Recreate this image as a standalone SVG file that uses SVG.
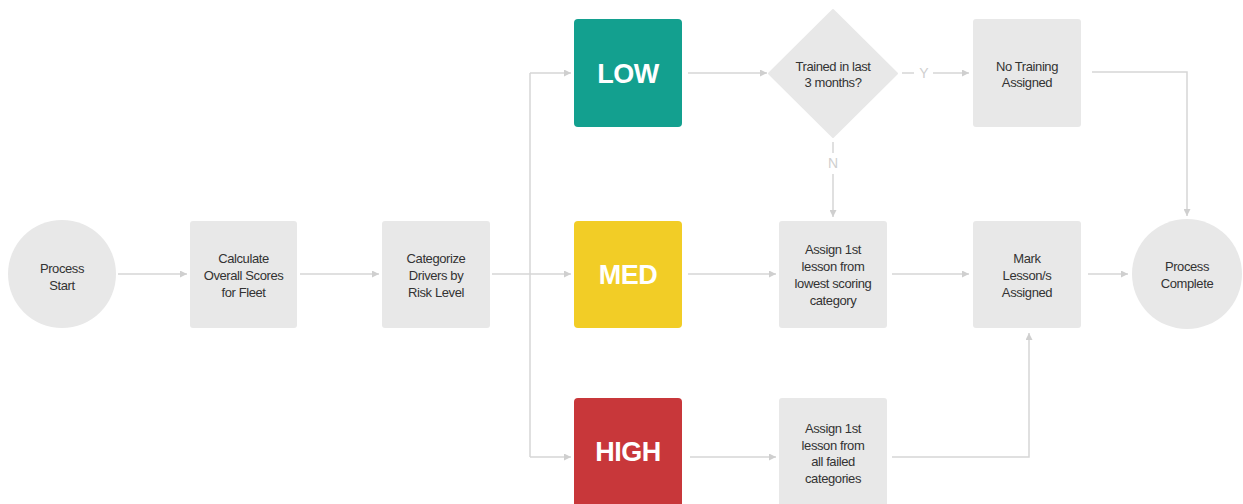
<svg xmlns="http://www.w3.org/2000/svg" width="1243" height="504" viewBox="0 0 1243 504">
<defs>
<marker id="ah" viewBox="0 0 10 10" refX="10" refY="5" markerWidth="7" markerHeight="7" markerUnits="userSpaceOnUse" orient="auto">
<path d="M0,0 L10,5 L0,10 z" fill="#cfcfcf"/>
</marker>
<style>
.box{fill:#e8e8e8}
.t{font-family:"Liberation Sans",Arial,sans-serif;font-size:13px;fill:#333;text-anchor:middle;letter-spacing:-0.4px}
.big{font-family:"Liberation Sans",Arial,sans-serif;font-size:27px;font-weight:bold;fill:#fff;text-anchor:middle;letter-spacing:-0.5px}
.c{fill:none;stroke:#d6d6d6;stroke-width:1.5}
.a{marker-end:url(#ah)}
.lbl{font-family:"Liberation Sans",Arial,sans-serif;font-size:14px;fill:#cfcfcf;text-anchor:middle}
</style>
</defs>
<rect width="1243" height="504" fill="#fff"/>
<g id="connectors">
<path class="c a" d="M118,274 H187"/>
<path class="c a" d="M300,274 H379"/>
<path class="c a" d="M492,274 H571"/>
<path class="c" d="M530,457 V73"/>
<path class="c a" d="M530,73 H571"/>
<path class="c a" d="M530,457 H571"/>
<path class="c a" d="M688,73 H767"/>
<path class="c" d="M902,73 H914"/>
<path class="c a" d="M933,73 H969"/>
<path class="c" d="M833,142 V153"/>
<path class="c a" d="M833,174 V217"/>
<path class="c a" d="M1092,72 H1187 V216"/>
<path class="c a" d="M688,274 H776"/>
<path class="c a" d="M892,274 H969"/>
<path class="c a" d="M1088,274 H1128"/>
<path class="c a" d="M690,457 H776"/>
<path class="c a" d="M892,457 H1029 V333"/>
<text class="lbl" x="924" y="78">Y</text>
<text class="lbl" x="833" y="168">N</text>
</g>
<g id="start">
<circle cx="62" cy="274" r="54" fill="#e8e8e8"/>
<text class="t" x="62" y="273">Process</text>
<text class="t" x="62" y="290">Start</text>
</g>
<g id="calc">
<rect class="box" x="190" y="221" width="107" height="107" rx="3"/>
<text class="t" x="243.5" y="263">Calculate</text>
<text class="t" x="243.5" y="280">Overall Scores</text>
<text class="t" x="243.5" y="297">for Fleet</text>
</g>
<g id="categorize">
<rect class="box" x="382" y="221" width="108" height="107" rx="3"/>
<text class="t" x="436" y="263">Categorize</text>
<text class="t" x="436" y="280">Drivers by</text>
<text class="t" x="436" y="297">Risk Level</text>
</g>
<g id="low">
<rect x="574" y="19" width="108" height="108" rx="4" fill="#13a08f"/>
<text class="big" x="628" y="83">LOW</text>
</g>
<g id="med">
<rect x="574" y="221" width="108" height="107" rx="4" fill="#f2cd26"/>
<text class="big" x="628" y="284">MED</text>
</g>
<g id="high">
<rect x="574" y="398" width="108" height="112" rx="4" fill="#c8373a"/>
<text class="big" x="628" y="461">HIGH</text>
</g>
<g id="decision">
<path d="M833,10 L897,73.5 L833,137 L769,73.5 z" fill="#e8e8e8" stroke="#e8e8e8" stroke-width="2" stroke-linejoin="round"/>
<text class="t" x="833" y="71">Trained in last</text>
<text class="t" x="833" y="87">3 months?</text>
</g>
<g id="notraining">
<rect class="box" x="973" y="19" width="108" height="108" rx="3"/>
<text class="t" x="1027" y="71">No Training</text>
<text class="t" x="1027" y="87">Assigned</text>
</g>
<g id="assignlowest">
<rect class="box" x="779" y="221" width="108" height="107" rx="3"/>
<text class="t" x="833" y="254">Assign 1st</text>
<text class="t" x="833" y="271">lesson from</text>
<text class="t" x="833" y="288">lowest scoring</text>
<text class="t" x="833" y="305">category</text>
</g>
<g id="mark">
<rect class="box" x="973" y="221" width="108" height="107" rx="3"/>
<text class="t" x="1027" y="263">Mark</text>
<text class="t" x="1027" y="280">Lesson/s</text>
<text class="t" x="1027" y="297">Assigned</text>
</g>
<g id="complete">
<circle cx="1187" cy="274" r="55" fill="#e8e8e8"/>
<text class="t" x="1187" y="271">Process</text>
<text class="t" x="1187" y="288">Complete</text>
</g>
<g id="assignfailed">
<rect class="box" x="779" y="398" width="108" height="112" rx="3"/>
<text class="t" x="833" y="433">Assign 1st</text>
<text class="t" x="833" y="450">lesson from</text>
<text class="t" x="833" y="466">all failed</text>
<text class="t" x="833" y="483">categories</text>
</g>
</svg>
